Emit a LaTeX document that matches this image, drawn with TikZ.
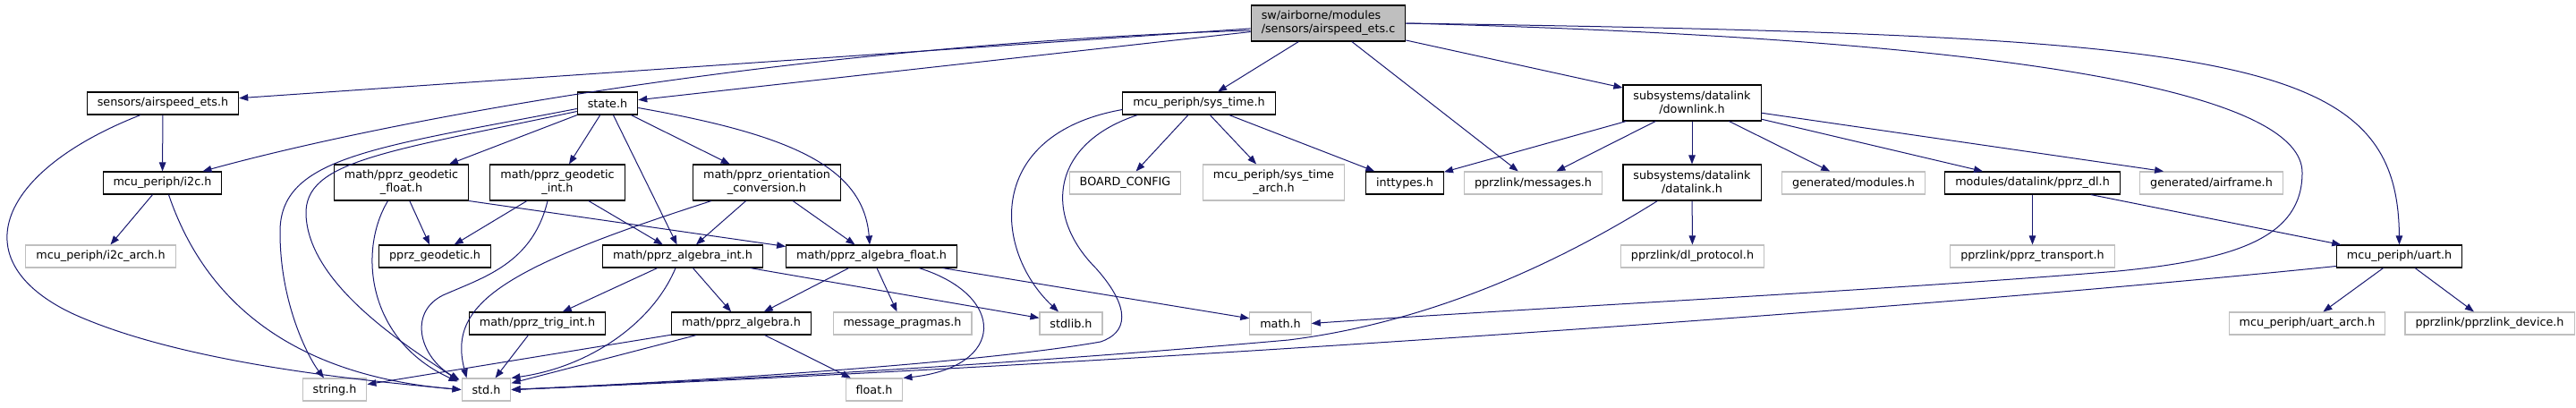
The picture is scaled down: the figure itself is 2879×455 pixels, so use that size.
\documentclass[tikz,border=0pt]{standalone}
\usepackage{fontspec}
\setmainfont{DejaVu Sans}
\usetikzlibrary{calc,arrows.meta}
\definecolor{depblue}{HTML}{191970}
\definecolor{boxgray}{HTML}{BFBFBF}

\begin{document}
\begin{tikzpicture}[x=1pt,y=-1pt,line width=1pt,>={Triangle[length=10pt,width=7.5pt]},
  box/.style={draw,fill=white,line width=1.1pt,inner xsep=11.5pt,inner ysep=0pt,
    minimum height=25pt,font=\fontsize{12.75}{15}\selectfont,align=center},
  incbox/.style={box,draw=black},
  sysbox/.style={box,draw=boxgray},
  rootbox/.style={box,draw=black,fill=boxgray,align=left},
  twoline/.style={minimum height=40pt},
  dep/.style={->,draw=depblue}]
  \useasboundingbox (0,0) rectangle (2879,455);
  % nodo raiz
  \node[rootbox,twoline] (root) at (1484.5,26) {sw/airborne/modules\\/sensors/airspeed\_ets.c};
  % fila 1
  \node[incbox] (airspeed) at (182,115.5) {sensors/airspeed\_ets.h};
  \node[incbox] (state) at (679,115.5) {state.h};
  \node[incbox] (systime) at (1340,115.5) {mcu\_periph/sys\_time.h};
  \node[incbox,twoline] (downlink) at (1891,115) {subsystems/datalink\\/downlink.h};
  % fila 2
  \node[incbox] (i2c) at (181.5,204.5) {mcu\_periph/i2c.h};
  \node[incbox,twoline] (geofloat) at (448.5,204) {math/pprz\_geodetic\\\_float.h};
  \node[incbox,twoline] (geoint) at (623,204) {math/pprz\_geodetic\\\_int.h};
  \node[incbox,twoline] (orient) at (857,204) {math/pprz\_orientation\\\_conversion.h};
  \node[sysbox] (boardcfg) at (1257.5,204.5) {BOARD\_CONFIG};
  \node[sysbox,twoline] (systimearch) at (1423.5,204) {mcu\_periph/sys\_time\\\_arch.h};
  \node[incbox] (inttypes) at (1570,204.5) {inttypes.h};
  \node[sysbox] (messages) at (1713.5,204.5) {pprzlink/messages.h};
  \node[incbox,twoline] (datalink) at (1891,204) {subsystems/datalink\\/datalink.h};
  \node[sysbox] (genmodules) at (2071.5,204.5) {generated/modules.h};
  \node[incbox] (pprzdl) at (2271.5,204.5) {modules/datalink/pprz\_dl.h};
  \node[sysbox] (airframe) at (2471.5,204.5) {generated/airframe.h};
  % fila 3
  \node[sysbox] (i2carch) at (112.5,286.5) {mcu\_periph/i2c\_arch.h};
  \node[incbox] (geodetic) at (486,286.5) {pprz\_geodetic.h};
  \node[incbox] (algint) at (763,286.5) {math/pprz\_algebra\_int.h};
  \node[incbox] (algfloat) at (974,286.5) {math/pprz\_algebra\_float.h};
  \node[sysbox] (dlproto) at (1891.5,286.5) {pprzlink/dl\_protocol.h};
  \node[sysbox] (transport) at (2271.5,286.5) {pprzlink/pprz\_transport.h};
  \node[incbox] (uart) at (2681.5,286.5) {mcu\_periph/uart.h};
  % fila 4
  \node[incbox] (trigint) at (600.5,361.5) {math/pprz\_trig\_int.h};
  \node[incbox] (algebra) at (828.5,361.5) {math/pprz\_algebra.h};
  \node[sysbox] (pragmas) at (1008.5,361.5) {message\_pragmas.h};
  \node[sysbox] (stdlib) at (1197,361.5) {stdlib.h};
  \node[sysbox] (mathh) at (1431,361.5) {math.h};
  \node[sysbox] (uartarch) at (2578.5,361.5) {mcu\_periph/uart\_arch.h};
  \node[sysbox] (device) at (2782.5,361.5) {pprzlink/pprzlink\_device.h};
  % fila 5
  \node[sysbox] (stringh) at (374,435.5) {string.h};
  \node[sysbox] (stdh) at (543.5,435.5) {std.h};
  \node[sysbox] (floath) at (977,435.5) {float.h};

  % desde la raiz
  \draw[dep] (root) -- (airspeed);
  \draw[dep] ($(root.west)+(0,8)$) .. controls (900,50) and (450,130) .. ($(i2c.north east)+(-22,0)$);
  \draw[dep] (root) -- (state);
  \draw[dep] (root) -- (systime);
  \draw[dep] (root) -- (messages);
  \draw[dep] (root) -- (downlink);
  \draw[dep] (root.east) .. controls (2300,45) and (2573,110) .. (2573,193)
    .. controls (2573,265) and (2500,290) .. (2367,303)
    .. controls (2100,325) and (1700,345) .. (mathh.east);
  \draw[dep] (root.east) .. controls (2500,40) and (2680,60) .. (uart.north);
  % sensors/airspeed_ets.h
  \draw[dep] (airspeed) -- (i2c);
  \draw[dep] ($(airspeed.south)+(-25,0)$) .. controls (0,190) and (-45,290) .. (80,350)
    .. controls (200,405) and (400,425) .. (stdh.west);
  % state.h
  \draw[dep] ($(state.west)+(0,6)$) .. controls (420,165) and (312,175) .. (313,260)
    .. controls (313,340) and (345,400) .. ($(stringh.north)+(-12,0)$);
  \draw[dep] ($(state.west)+(0,9)$) .. controls (430,170) and (340,180) .. (342,240)
    .. controls (345,320) and (460,390) .. ($(stdh.north west)+(-3,3)$);
  \draw[dep] (state) -- (geofloat);
  \draw[dep] (state) -- (geoint);
  \draw[dep] (state) -- (algint);
  \draw[dep] (state) -- (orient);
  \draw[dep] ($(state.east)+(0,5)$) .. controls (880,150) and (965,185) .. ($(algfloat.north)+(-2,0)$);
  % mcu_periph/i2c.h
  \draw[dep] (i2c) -- (i2carch);
  \draw[dep] ($(i2c.south)+(7,0)$) .. controls (230,340) and (330,420) .. (stdh.west);
  % geodetic
  \draw[dep] (geofloat) -- (geodetic);
  \draw[dep] ($(geofloat.south)+(-15,0)$) .. controls (400,280) and (410,380) .. ($(stdh.north west)+(-4,4)$);
  \draw[dep] (geofloat.south east) -- ($(algfloat.north west)+(0,2)$);
  \draw[dep] (geoint) -- (geodetic);
  \draw[dep] ($(geoint.south)+(-11,0)$) .. controls (595,295) and (540,310) .. (495,330)
    .. controls (455,350) and (470,400) .. ($(stdh.north west)+(-2,2)$);
  \draw[dep] (geoint) -- (algint);
  % orientation
  \draw[dep] ($(orient.south west)+(21,0)$) .. controls (560,300) and (500,340) .. ($(stdh.north)+(-22,0)$);
  \draw[dep] (orient) -- (algint);
  \draw[dep] (orient) -- (algfloat);
  % algebra
  \draw[dep] (algint) -- (trigint);
  \draw[dep] (algint) -- (algebra);
  \draw[dep] ($(algint.south)+(-8,0)$) .. controls (730,360) and (660,410) .. (stdh.north east);
  \draw[dep] (algint) -- (stdlib);
  \draw[dep] (algfloat) -- (algebra);
  \draw[dep] (algfloat) -- (pragmas);
  \draw[dep] (algfloat) -- (mathh);
  \draw[dep] ($(algfloat.south)+(53,0)$) .. controls (1125,330) and (1125,410) .. (floath.north east);
  \draw[dep] (trigint) -- (stdh);
  \draw[dep] (algebra) -- (stringh);
  \draw[dep] (algebra) -- (stdh);
  \draw[dep] (algebra) -- (floath);
  % mcu_periph/sys_time.h
  \draw[dep] ($(systime.west)+(0,7)$) .. controls (1100,150) and (1110,280) .. ($(stdlib.north)+(-14,0)$);
  \draw[dep] ($(systime.south west)+(17,0)$) .. controls (1175,160) and (1165,240) .. (1225,300)
    .. controls (1265,345) and (1260,372) .. (1230,382)
    .. controls (1100,405) and (800,425) .. (stdh.east);
  \draw[dep] (systime) -- (boardcfg);
  \draw[dep] (systime) -- (systimearch);
  \draw[dep] (systime) -- (inttypes);
  % datalink
  \draw[dep] (downlink) -- (inttypes);
  \draw[dep] (downlink) -- (messages);
  \draw[dep] (downlink) -- (datalink);
  \draw[dep] (downlink) -- (genmodules);
  \draw[dep] (downlink) -- (pprzdl);
  \draw[dep] (downlink) -- ($(airframe.north west)+(27,0)$);
  \draw[dep] (datalink) -- (dlproto);
  \draw[dep] ($(datalink.south west)+(39,0)$) .. controls (1700,320) and (1560,365) .. (1440,380)
    .. controls (1100,410) and (800,425) .. (stdh.east);
  \draw[dep] (pprzdl) -- (transport);
  \draw[dep] (pprzdl) -- (uart);
  % mcu_periph/uart.h
  \draw[dep] (uart) -- (uartarch);
  \draw[dep] (uart) -- (device);
  \draw[dep] ($(uart.west)+(0,11)$) .. controls (2100,350) and (1200,410) .. (stdh.east);
\end{tikzpicture}
\end{document}
